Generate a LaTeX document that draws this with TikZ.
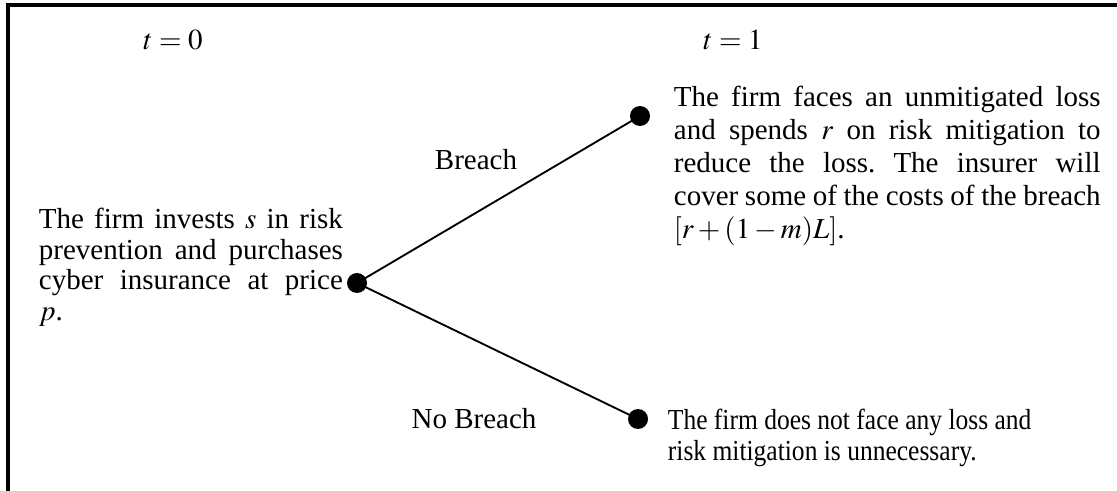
\documentclass[tikz,border=0pt]{standalone}
\usepackage{mathptmx}
\usepackage{fontspec}
\setmainfont{Liberation Serif}
\newfontfamily\narrowserif[FakeStretch=0.88]{Liberation Serif}
\frenchspacing
\tikzset{every picture/.style={line width=1.4pt}}
\tikzset{dot/.style={circle,fill=black,inner sep=0pt,minimum size=15pt}}
\tikzset{txt/.style={inner sep=0pt,font=\fontsize{21.75}{23}\selectfont}}

\begin{document}
\begin{tikzpicture}[x=0.75pt,y=0.75pt,yscale=-1,xscale=1]
\useasboundingbox (0,0) rectangle (1117,491);
\draw [line width=2.5pt] (8,491) -- (8,5) -- (1117,5) ;
\node (tzero) [txt,anchor=base] at (173,50) {$t=0$};
\node (tone) [txt,anchor=base] at (733,50) {$t=1$};
\node (root) [dot] at (357,283) {};
\node (hit) [dot] at (640,116) {};
\node (safe) [dot] at (638,419) {};
\draw (root.center) -- (hit.center) ;
\draw (root.center) -- (safe.center) ;
\node (breach) [txt,anchor=base] at (476,170) {Breach};
\node (nobreach) [txt,anchor=base] at (474,428) {No Breach};
\node (invest) [txt,anchor=north west,text width=228pt,align=justify] at (38,207) {The firm invests $s$ in risk\hspace{0pt plus 1fil}\linebreak prevention and purchases\linebreak cyber insurance at price\linebreak $p$.};
\node (loss) [txt,anchor=north west,text width=320pt,align=justify,font=\fontsize{21.75}{24.75}\selectfont] at (673,85) {The firm faces an unmitigated loss\linebreak and spends $r$ on risk mitigation to\linebreak reduce the loss. The insurer will\linebreak cover some of the costs of the breach\linebreak $[r+(1-m)L]$.};
\node (noloss) [txt,anchor=north west,align=left,font=\narrowserif\fontsize{21.75}{23}\selectfont] at (667,408) {The firm does not face any loss and\\risk mitigation is unnecessary.};
\end{tikzpicture}
\end{document}
